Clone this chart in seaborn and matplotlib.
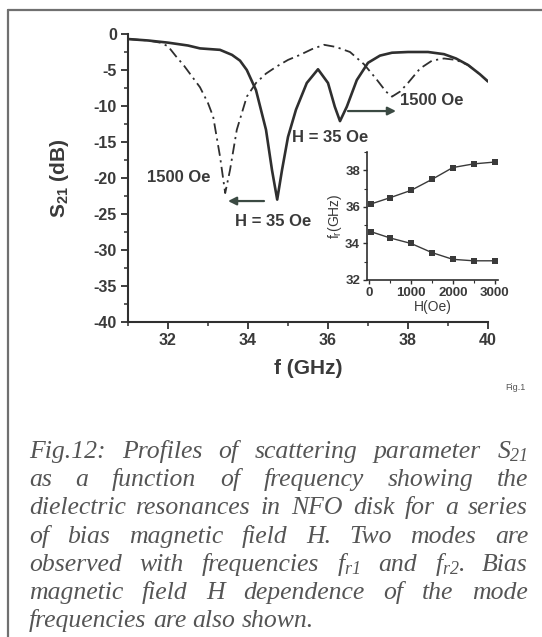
import numpy as np
import pandas as pd
import matplotlib
matplotlib.use("Agg")
import matplotlib.pyplot as plt
from matplotlib.lines import Line2D
from matplotlib.ticker import MultipleLocator
import seaborn as sns

# ---------------- data ----------------
f_35 = [31.0, 31.5, 32.0, 32.5, 32.8, 33.3, 33.6, 33.8, 33.97, 34.2, 34.45, 34.6, 34.73,
        34.85, 35.0, 35.2, 35.47, 35.75, 36.0, 36.17, 36.3, 36.47, 36.72, 37.0, 37.3,
        37.6, 38.0, 38.5, 38.9, 39.2, 39.5, 39.8, 40.0]
s_35 = [-0.7, -0.9, -1.2, -1.6, -2.0, -2.2, -2.9, -3.7, -5.0, -7.8, -13.3, -18.9, -23.0,
        -18.9, -14.3, -10.5, -6.8, -4.9, -6.8, -10.1, -12.1, -10.1, -6.4, -4.0, -3.0,
        -2.6, -2.5, -2.5, -2.8, -3.4, -4.3, -5.6, -6.6]

f_1500 = [31.0, 31.5, 31.8, 32.0, 32.2, 32.4, 32.6, 32.8, 33.0, 33.13, 33.3, 33.43, 33.55,
          33.72, 33.97, 34.2, 34.45, 34.72, 35.0, 35.3, 35.6, 35.9, 36.2, 36.55, 36.9,
          37.2, 37.45, 37.6, 37.8, 38.0, 38.3, 38.6, 38.9, 39.2, 39.5, 39.8, 40.0]
s_1500 = [-0.7, -0.9, -1.2, -1.7, -3.1, -4.4, -5.9, -7.4, -9.6, -11.5, -17.0, -22.1, -18.9,
          -13.3, -8.7, -6.8, -5.5, -4.5, -3.6, -2.9, -2.1, -1.5, -1.8, -2.5, -4.2,
          -6.2, -8.0, -8.7, -8.0, -6.8, -4.8, -3.7, -3.4, -3.6, -4.3, -5.6, -6.6]

H_field = [35, 500, 1000, 1500, 2000, 2500, 3000]
fr_upper = [36.15, 36.5, 36.9, 37.5, 38.15, 38.35, 38.45]
fr_lower = [34.65, 34.3, 34.0, 33.5, 33.13, 33.05, 33.05]

main_xticks = [32, 34, 36, 38, 40]
main_yticks = [0, -5, -10, -15, -20, -25, -30, -35, -40]
inset_xticks = [0, 1000, 2000, 3000]
inset_yticks = [32, 34, 36, 38]

caption_lines = [
    ["Fig.12:", "Profiles", "of", "scattering", "parameter", r"$S_{21}$"],
    ["as", "a", "function", "of", "frequency", "showing", "the"],
    ["dielectric", "resonances", "in", "NFO", "disk", "for", "a", "series"],
    ["of", "bias", "magnetic", "field", "H.", "Two", "modes", "are"],
    ["observed", "with", "frequencies", r"$f_{r1}$", "and", r"$f_{r2}$.", "Bias"],
    ["magnetic", "field", "H", "dependence", "of", "the", "mode"],
    ["frequencies", "are", "also", "shown."],
]

# ---------------- style ----------------
sns.set_theme(style="ticks")
plt.rcParams["font.family"] = ["Liberation Sans", "DejaVu Sans"]
plt.rcParams["axes.unicode_minus"] = False
plt.rcParams["mathtext.fontset"] = "custom"
plt.rcParams["mathtext.it"] = "Liberation Serif:italic"
plt.rcParams["mathtext.rm"] = "Liberation Serif:italic"
plt.rcParams["mathtext.bf"] = "Liberation Sans:bold"
plt.rcParams["mathtext.sf"] = "Liberation Sans"

W, Hpx = 542, 637
fig = plt.figure(figsize=(W / 100, Hpx / 100), dpi=100)
fig.patch.set_facecolor("white")

line_col = "#2f2f2f"
text_col = "#3a3a3a"

def fx(px):
    return px / W

def fy(py):
    return 1 - py / Hpx

# ---------------- main axes ----------------
ax = fig.add_axes([fx(128), fy(322), fx(488) - fx(128), fy(34) - fy(322)])
df35 = pd.DataFrame({"f": f_35, "S": s_35})
df1500 = pd.DataFrame({"f": f_1500, "S": s_1500})
sns.lineplot(data=df35, x="f", y="S", ax=ax, color=line_col, lw=1.9, sort=False)
sns.lineplot(data=df1500, x="f", y="S", ax=ax, color=line_col, lw=1.3, sort=False,
             linestyle=(0, (6, 2.5, 1.2, 2.5)))
ax.set_xlim(31, 40)
ax.set_ylim(-40, 0)
ax.set_xticks(main_xticks)
ax.set_yticks(main_yticks)
ax.xaxis.set_minor_locator(MultipleLocator(1))
ax.yaxis.set_minor_locator(MultipleLocator(2.5))
for sp in ["top", "right"]:
    ax.spines[sp].set_visible(False)
for sp in ["left", "bottom"]:
    ax.spines[sp].set_linewidth(1.5)
    ax.spines[sp].set_color(line_col)
ax.tick_params(axis="both", which="major", direction="out", length=5, width=1.3,
               color=line_col, labelsize=11.5, labelcolor=text_col, pad=3)
ax.tick_params(axis="both", which="minor", direction="out", length=3, width=1.1,
               color=line_col)
for lab in ax.get_xticklabels() + ax.get_yticklabels():
    lab.set_fontweight("bold")
ax.set_xlabel("f (GHz)", fontsize=15, fontweight="bold", color=text_col, labelpad=8)
ax.set_ylabel(r"S$_{\mathbf{21}}$ (dB)", fontsize=15, fontweight="bold", color=text_col,
              labelpad=16)
ax.set_facecolor("none")

# annotations
ann_kw = dict(fontsize=12, fontweight="bold", color=text_col, va="center")
ax.text(31.48, -20.0, "1500 Oe", ha="left", **ann_kw)
ax.text(33.68, -26.1, "H = 35 Oe", ha="left", **ann_kw)
ax.text(35.1, -14.4, "H = 35 Oe", ha="left", **ann_kw)
ax.text(37.8, -9.2, "1500 Oe", ha="left", **ann_kw)
arrow_col = "#3b4a43"
ax.annotate("", xy=(33.5, -23.2), xytext=(34.4, -23.2),
            arrowprops=dict(arrowstyle="-|>", color=arrow_col, lw=1.6, mutation_scale=12,
                            shrinkA=0, shrinkB=0))
ax.annotate("", xy=(37.7, -10.7), xytext=(36.5, -10.7),
            arrowprops=dict(arrowstyle="-|>", color=arrow_col, lw=1.6, mutation_scale=12,
                            shrinkA=0, shrinkB=0))

# ---------------- inset ----------------
ins = fig.add_axes([fx(367), fy(280), fx(498) - fx(367), fy(152) - fy(280)])
dfu = pd.DataFrame({"H": H_field, "f": fr_upper})
dfl = pd.DataFrame({"H": H_field, "f": fr_lower})
for d in (dfu, dfl):
    sns.lineplot(data=d, x="H", y="f", ax=ins, color="#3a3a3a", lw=1.0, marker="s",
                 markersize=4, markeredgewidth=0, sort=False)
ins.set_xlim(-50, 3080)
ins.set_ylim(32, 39)
ins.set_xticks(inset_xticks)
ins.set_yticks(inset_yticks)
ins.xaxis.set_minor_locator(MultipleLocator(500))
ins.yaxis.set_minor_locator(MultipleLocator(1))
for sp in ["top", "right"]:
    ins.spines[sp].set_visible(False)
for sp in ["left", "bottom"]:
    ins.spines[sp].set_linewidth(1.2)
    ins.spines[sp].set_color(line_col)
ins.tick_params(axis="both", which="major", direction="out", length=3, width=1.0,
                color=line_col, labelsize=9.5, labelcolor=text_col, pad=2)
ins.tick_params(axis="both", which="minor", direction="out", length=2, width=0.8,
                color=line_col)
for lab in ins.get_xticklabels() + ins.get_yticklabels():
    lab.set_fontweight("bold")
ins.set_xlabel("H(Oe)", fontsize=10, color=text_col, labelpad=1)
ins.set_ylabel(r"f$_{\mathsf{r}}$(GHz)", fontsize=10, color=text_col, labelpad=1)
ins.set_facecolor("none")

# small "Fig.1" label
fig.text(fx(505), fy(388), "Fig.1", fontsize=6.5, color="#555555", va="center", ha="left")

# ---------------- border ----------------
border_col = "#707070"
fig.add_artist(Line2D([fx(8), fx(8)], [fy(10), 0], transform=fig.transFigure,
                      color=border_col, lw=1.6))
fig.add_artist(Line2D([fx(8), 1], [fy(10), fy(10)], transform=fig.transFigure,
                      color=border_col, lw=1.6))

# ---------------- caption (justified) ----------------
fig.canvas.draw()
renderer = fig.canvas.get_renderer()
cap_left, cap_right = 29, 528
cap_kw = dict(family="Liberation Serif", style="italic", fontsize=18.5, color="#555555",
              va="baseline", ha="left", math_fontfamily="custom")
for i, words in enumerate(caption_lines):
    ypix = 458 + i * 28.2
    texts = [fig.text(fx(cap_left), fy(ypix), w, **cap_kw) for w in words]
    widths = [t.get_window_extent(renderer).width for t in texts]
    last = i == len(caption_lines) - 1
    if not last and len(words) > 1:
        gap = (cap_right - cap_left - sum(widths)) / (len(words) - 1)
    else:
        gap = 6.4
    x = cap_left
    for t, w in zip(texts, widths):
        t.set_x(fx(x))
        x += w + gap

fig.savefig("out.png", dpi=100, facecolor="white")
